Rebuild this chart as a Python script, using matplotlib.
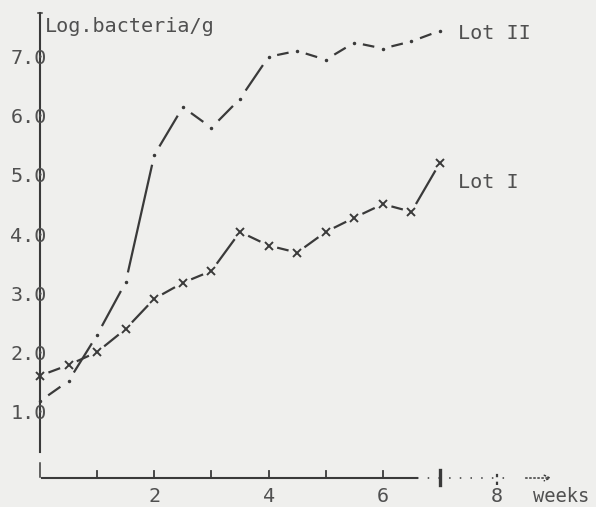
import numpy as np
import matplotlib.pyplot as plt

# data (weeks vs log bacteria/g)
weeks = [0, 0.5, 1, 1.5, 2, 2.5, 3, 3.5, 4, 4.5, 5, 5.5, 6, 6.5, 7]
lot1 = [1.64, 1.82, 2.04, 2.43, 2.94, 3.21, 3.41, 4.07, 3.84, 3.72, 4.07, 4.31, 4.54, 4.41, 5.24]
lot2 = [1.21, 1.55, 2.33, 3.22, 5.37, 6.18, 5.83, 6.32, 7.03, 7.13, 6.98, 7.27, 7.17, 7.29, 7.47]
y_ticks = [1, 2, 3, 4, 5, 6, 7]
y_labels = ['1.0', '2.0', '3.0', '4.0', '5.0', '6.0', '7.0']
x_ticks = [2, 4, 6, 8]
x_labels = ['2', '4', '6', '8']

bg = '#efefed'
ink = '#3a3a3a'
txt = '#505050'
font = 'DejaVu Sans Mono'
fs = 14.5

fig = plt.figure(figsize=(5.96, 5.07), dpi=100, facecolor=bg)
ax = fig.add_axes([0, 0, 1, 1])
ax.set_facecolor(bg)
ax.set_xlim(-0.70, 9.73)
ax.set_ylim(-0.58, 7.99)
ax.axis('off')


def gapped(x, y, gap_px, **kw):
    # one dash per segment, leaving a gap next to each data point
    pts = ax.transData.transform(np.column_stack([x, y]))
    inv = ax.transData.inverted()
    for i in range(len(pts) - 1):
        p0, p1 = pts[i], pts[i + 1]
        d = np.hypot(*(p1 - p0))
        f = min(gap_px / d, 0.3)
        a = p0 + (p1 - p0) * f
        b = p1 - (p1 - p0) * f
        seg = inv.transform([a, b])
        ax.plot(seg[:, 0], seg[:, 1], solid_capstyle='butt', **kw)


# axes, typewriter style
ax.plot([0, 0], [0.35, 7.77], color=ink, lw=1.5)
ax.plot([0, 0], [-0.07, 0.16], color=ink, lw=1.1)
ax.plot([-0.04, 0.04], [7.77, 7.77], color=ink, lw=1.1)
ax.plot([0.03, 6.6], [-0.09, -0.09], color=ink, lw=1.5)
ax.plot([6.6, 8.2], [-0.09, -0.09], color=ink, lw=1.1, ls=(0, (1, 6)))
ax.annotate('', xy=(9.0, -0.09), xytext=(8.45, -0.09),
            arrowprops=dict(arrowstyle='->', color=ink, lw=1.1, ls=':'))
for w in range(1, 7):
    ax.plot([w, w], [-0.09, 0.03], color=ink, lw=1.3)
ax.plot([7, 7], [-0.2, 0.04], color=ink, lw=2.4)
ax.plot([8, 8], [-0.2, 0.04], color=ink, lw=1.6, ls=(0, (1.5, 2)))

for v, lab in zip(y_ticks, y_labels):
    ax.text(0.12, v, lab, ha='right', va='center', fontsize=fs,
            family=font, color=txt)
for w, lab in zip(x_ticks, x_labels):
    ax.text(w, -0.41, lab, ha='center', va='center', fontsize=fs,
            family=font, color=txt)
ax.text(8.63, -0.41, 'weeks', ha='left', va='center', fontsize=13.5,
        family=font, color=txt)
ax.text(0.09, 7.54, 'Log.bacteria/g', ha='left', va='center', fontsize=fs,
        family=font, color=txt)

# Lot I: dashes with x marks
gapped(weeks, lot1, 9, color=ink, lw=1.6)
ax.plot(weeks, lot1, ls='none', marker='x', ms=6, mew=1.4, color=ink)

# Lot II: long dashes with dots
gapped(weeks, lot2, 10, color=ink, lw=1.6)
ax.plot(weeks, lot2, ls='none', marker='.', ms=3, color=ink)

ax.text(7.32, 7.43, 'Lot II', ha='left', va='center', fontsize=fs,
        family=font, color=txt)
ax.text(7.32, 4.90, 'Lot I', ha='left', va='center', fontsize=fs,
        family=font, color=txt)

fig.savefig('out.png', dpi=100, facecolor=bg)
